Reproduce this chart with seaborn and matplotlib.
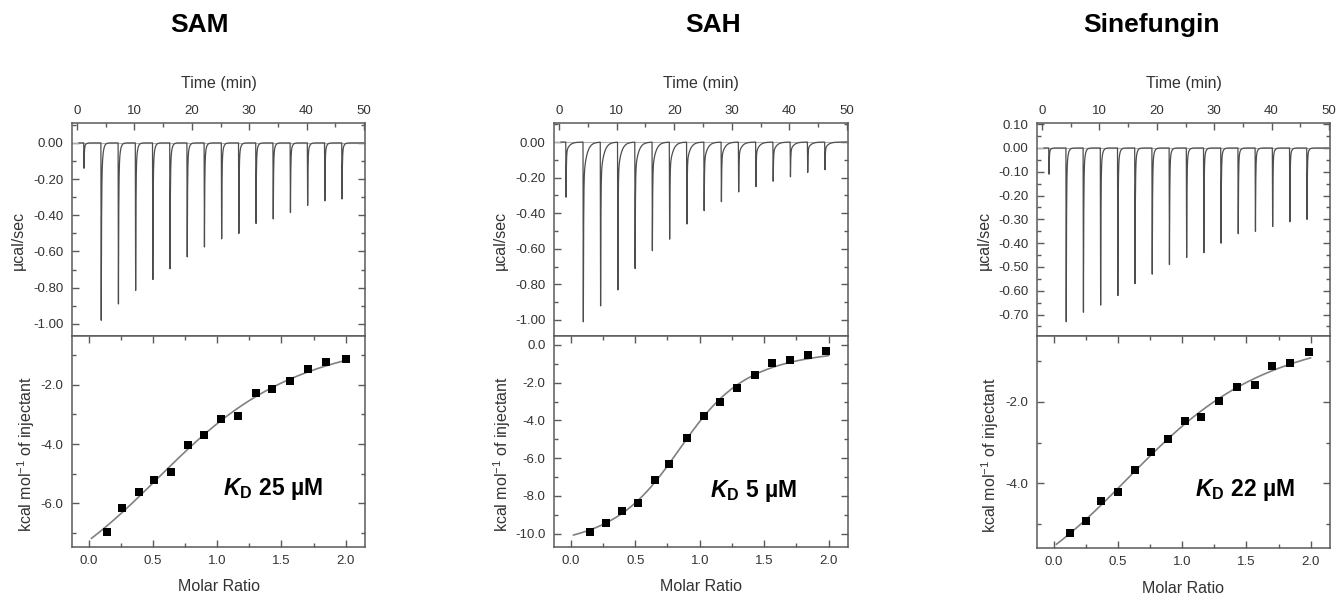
import numpy as np
import matplotlib
matplotlib.use("Agg")
import matplotlib.pyplot as plt
from matplotlib.ticker import MultipleLocator, FormatStrFormatter
import seaborn as sns

# ---------------- data ----------------
titles = ["SAM", "SAH", "Sinefungin"]
kd_labels = ["25 µM", "5 µM", "22 µM"]

# injection times (min) of the 16 injections
inj_time = [1.2, 4.2, 7.2, 10.2, 13.2, 16.2, 19.2, 22.2, 25.2, 28.2,
            31.2, 34.2, 37.2, 40.2, 43.2, 46.2]

# raw heat-rate peak depths (µcal/sec) and the level where the slow tail starts
sam_peak = [0.14, 0.98, 0.89, 0.815, 0.755, 0.695, 0.63, 0.575, 0.53, 0.50,
            0.445, 0.42, 0.385, 0.345, 0.32, 0.31]
sam_tail = [0.03, 0.26, 0.21, 0.18, 0.17, 0.16, 0.13, 0.12, 0.12, 0.11,
            0.09, 0.09, 0.08, 0.08, 0.07, 0.07]
sah_peak = [0.31, 1.01, 0.92, 0.83, 0.71, 0.61, 0.545, 0.46, 0.385, 0.335,
            0.28, 0.25, 0.22, 0.195, 0.17, 0.155]
sah_tail = [0.06, 0.22, 0.20, 0.18, 0.17, 0.16, 0.15, 0.12, 0.11, 0.09,
            0.07, 0.065, 0.06, 0.05, 0.04, 0.04]
sin_peak = [0.11, 0.73, 0.69, 0.66, 0.62, 0.57, 0.53, 0.49, 0.46, 0.44,
            0.40, 0.36, 0.35, 0.33, 0.31, 0.30]
sin_tail = [0.02, 0.13, 0.12, 0.12, 0.11, 0.10, 0.10, 0.08, 0.08, 0.07,
            0.065, 0.06, 0.06, 0.055, 0.05, 0.045]

# integrated heats (kcal/mol of injectant) vs molar ratio
sam_ratio = [0.14, 0.26, 0.39, 0.51, 0.64, 0.77, 0.90, 1.03, 1.16, 1.30,
             1.43, 1.57, 1.71, 1.85, 2.00]
sam_heat = [-6.98, -6.15, -5.63, -5.20, -4.95, -4.04, -3.68, -3.17, -3.07,
            -2.29, -2.16, -1.87, -1.47, -1.23, -1.12]
sah_ratio = [0.15, 0.27, 0.40, 0.52, 0.65, 0.76, 0.90, 1.03, 1.16, 1.29,
             1.43, 1.56, 1.70, 1.84, 1.98]
sah_heat = [-9.91, -9.42, -8.82, -8.39, -7.14, -6.30, -4.93, -3.74, -3.04,
            -2.28, -1.61, -0.96, -0.82, -0.56, -0.32]
sin_ratio = [0.13, 0.25, 0.37, 0.50, 0.63, 0.76, 0.89, 1.02, 1.15, 1.29,
             1.43, 1.57, 1.70, 1.84, 1.99]
sin_heat = [-5.21, -4.93, -4.42, -4.22, -3.67, -3.23, -2.92, -2.46, -2.37,
            -1.97, -1.63, -1.59, -1.13, -1.05, -0.79]

peaks = [sam_peak, sah_peak, sin_peak]
tails = [sam_tail, sah_tail, sin_tail]
ratios = [sam_ratio, sah_ratio, sin_ratio]
heats = [sam_heat, sah_heat, sin_heat]

# ---------------- styling ----------------
sns.set_theme(style="ticks")
plt.rcParams["font.family"] = ["Liberation Sans", "DejaVu Sans"]
plt.rcParams["axes.unicode_minus"] = False
plt.rcParams["mathtext.fontset"] = "custom"
plt.rcParams["mathtext.rm"] = "Liberation Sans"
plt.rcParams["mathtext.bf"] = "Liberation Sans:bold"
plt.rcParams["mathtext.it"] = "Liberation Sans:italic"
try:
    plt.rcParams["mathtext.bfit"] = "Liberation Sans:italic:bold"
except KeyError:
    pass

SPINE = "#5a5a5a"
TXT = "#333333"
TRACE = "#4d4d4d"
FIT = "#808080"

# per-panel settings: slow-tail time constants and axis scales
tau_slow = [0.22, 0.55, 0.22]
top_ylim = [(-1.067, 0.11), (-1.09, 0.107), (-0.79, 0.105)]
top_major = [0.2, 0.2, 0.1]
top_minor = [0.1, 0.1, 0.05]
bot_ylim = [(-7.47, -0.36), (-10.7, 0.47), (-5.58, -0.39)]
bot_major = [2.0, 2.0, 2.0]
bot_minor = [1.0, 1.0, 1.0]
lefts = [72, 554, 1037]
rights = [365, 848, 1330]
title_x = [199, 713, 1151]
mu_x = [-0.184, -0.183, -0.18]
kc_x = [-0.157, -0.177, -0.16]
kd_pos = [(0.515, 0.245), (0.53, 0.236), (0.54, 0.244)]

W, H = 1338, 596
fig = plt.figure(figsize=(W / 100, H / 100), dpi=100)


def frac(l, r, t, b):
    return [l / W, 1 - b / H, (r - l) / W, (b - t) / H]


def thermogram(t, times, depth, tail, tau_s):
    y = np.zeros_like(t)
    onset = 0.06
    tau_f = 0.05
    for t0, h, s in zip(times, depth, tail):
        fall = (t >= t0 - onset) & (t < t0)
        y[fall] -= h * (t[fall] - (t0 - onset)) / onset
        after = t >= t0
        dt = t[after] - t0
        y[after] -= (h - s) * np.exp(-dt / tau_f) + s * np.exp(-dt / tau_s)
    return y


def wiseman(x, n, r):
    xr = x / n
    return 0.5 + (1 - xr - r) / (2 * np.sqrt((1 + xr + r) ** 2 - 4 * xr))


def fit_isotherm(x, y):
    x = np.asarray(x)
    y = np.asarray(y)
    best = None
    for n in np.linspace(0.5, 1.5, 101):
        for r in np.logspace(-3, 1, 161):
            g = wiseman(x, n, r)
            dh = g.dot(y) / g.dot(g)
            sse = np.sum((y - dh * g) ** 2)
            if best is None or sse < best[0]:
                best = (sse, n, r, dh)
    return best[1:]


def style_axis(ax):
    for sp in ax.spines.values():
        sp.set_color(SPINE)
        sp.set_linewidth(1.1)
        sp.set_visible(True)
    ax.tick_params(which="both", direction="in", colors=SPINE,
                   labelcolor=TXT, labelsize=9.5, width=1)
    ax.tick_params(which="major", length=5)
    ax.tick_params(which="minor", length=3)
    ax.set_facecolor("white")
    ax.grid(False)


t_grid = np.arange(0.3, 50.0, 0.004)

for i in range(3):
    l, r = lefts[i], rights[i]
    ax_t = fig.add_axes(frac(l, r, 123, 336))
    ax_b = fig.add_axes(frac(l, r, 336, 547 if i < 2 else 548))

    # ---- raw heat rate ----
    trace = thermogram(t_grid, inj_time, peaks[i], tails[i], tau_slow[i])
    ax_t.axhline(0, color="#b0b0b0", lw=0.8, zorder=1)
    sns.lineplot(x=t_grid, y=trace, ax=ax_t, color=TRACE, lw=0.9,
                 estimator=None, sort=False, zorder=2)
    ax_t.set_xlim(-0.9, 50.2)
    ax_t.set_ylim(*top_ylim[i])
    style_axis(ax_t)
    ax_t.xaxis.set_major_locator(MultipleLocator(10))
    ax_t.xaxis.set_minor_locator(MultipleLocator(5))
    ax_t.yaxis.set_major_locator(MultipleLocator(top_major[i]))
    ax_t.yaxis.set_minor_locator(MultipleLocator(top_minor[i]))
    ax_t.yaxis.set_major_formatter(FormatStrFormatter("%.2f"))
    ax_t.tick_params(axis="x", which="both", top=True, bottom=False,
                     labeltop=True, labelbottom=False, pad=4)
    ax_t.tick_params(axis="y", which="both", left=True, right=True, pad=6)
    ax_t.xaxis.set_label_position("top")
    ax_t.set_xlabel("Time (min)", fontsize=11.5, color=TXT, va="center")
    ax_t.xaxis.set_label_coords(0.5, 1.184)
    ax_t.set_ylabel("µcal/sec", fontsize=11.5, color=TXT, va="center")
    ax_t.yaxis.set_label_coords(mu_x[i], 0.45)

    # ---- integrated heats with one-site fit ----
    n_fit, r_fit, dh_fit = fit_isotherm(ratios[i], heats[i])
    xf = np.linspace(0.02, 2.0, 300)
    sns.lineplot(x=xf, y=dh_fit * wiseman(xf, n_fit, r_fit), ax=ax_b,
                 color=FIT, lw=1.2, estimator=None, sort=False, zorder=2)
    sns.scatterplot(x=ratios[i], y=heats[i], ax=ax_b, marker="s", s=32,
                    color="black", edgecolor="black", linewidth=0, zorder=3)
    ax_b.set_xlim(-0.13, 2.15)
    ax_b.set_ylim(*bot_ylim[i])
    style_axis(ax_b)
    ax_b.xaxis.set_major_locator(MultipleLocator(0.5))
    ax_b.xaxis.set_minor_locator(MultipleLocator(0.25))
    ax_b.yaxis.set_major_locator(MultipleLocator(bot_major[i]))
    ax_b.yaxis.set_minor_locator(MultipleLocator(bot_minor[i]))
    ax_b.xaxis.set_major_formatter(FormatStrFormatter("%.1f"))
    ax_b.yaxis.set_major_formatter(FormatStrFormatter("%.1f"))
    ax_b.tick_params(axis="x", which="both", top=True, bottom=True,
                     labeltop=False, labelbottom=True, pad=6)
    ax_b.tick_params(axis="y", which="both", left=True, right=True, pad=6)
    ax_b.set_xlabel("Molar Ratio", fontsize=11.5, color=TXT, va="center")
    ax_b.xaxis.set_label_coords(0.5, -0.189)
    ax_b.set_ylabel(r"kcal mol$^{\mathregular{-1}}$ of injectant",
                    fontsize=11.5, color=TXT, va="center")
    ax_b.yaxis.set_label_coords(kc_x[i], 0.44)

    ax_b.text(kd_pos[i][0], kd_pos[i][1],
              r"$\mathbfit{K}_{\mathbf{D}}$ " + kd_labels[i],
              transform=ax_b.transAxes, fontsize=16.5, fontweight="bold",
              color="black", ha="left", va="baseline")

    fig.text(title_x[i] / W, 1 - 25 / H, titles[i], fontsize=19,
             fontweight="bold", color="black", ha="center", va="center")

fig.savefig("out.png", dpi=100, facecolor="white")
